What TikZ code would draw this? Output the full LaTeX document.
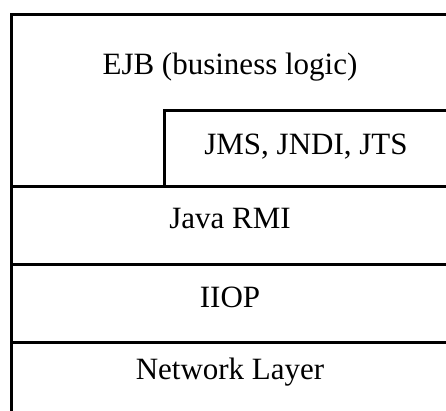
\documentclass[tikz,border=0pt]{standalone}
\usepackage{fontspec}
\setmainfont{Liberation Serif}
\begin{document}
\begin{tikzpicture}[x=1pt,y=-1pt,
  layer/.style={draw=black,line width=3pt},
  lbl/.style={font=\fontsize{31}{36}\selectfont,inner sep=0pt,anchor=center}]
\useasboundingbox (0,0) rectangle (446,410);
\clip (0,0) rectangle (446,410);
\fill[white] (0,0) rectangle (446,410);
\draw[layer] (11,14.5) rectangle (470,440);
\draw[layer] (164,110) rectangle (470,186.5);
\draw[layer] (11,186.5) -- (470,186.5);
\draw[layer] (11,264) -- (470,264);
\draw[layer] (11,342) -- (470,342);
\node[lbl] (ejb) at (230,67) {EJB (business logic)};
\node[lbl] (jms) at (306,147) {JMS, JNDI, JTS};
\node[lbl] (rmi) at (230,218) {Java RMI};
\node[lbl] (iiop) at (230,297) {IIOP};
\node[lbl] (net) at (230,372) {Network Layer};
\end{tikzpicture}
\end{document}
